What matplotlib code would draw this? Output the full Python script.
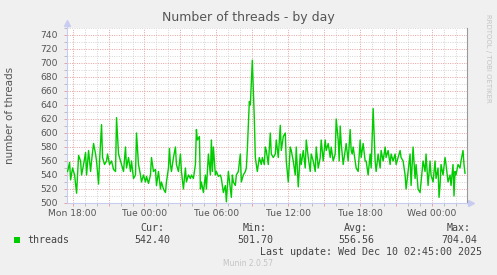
import matplotlib
matplotlib.use("Agg")
import matplotlib.pyplot as plt
from matplotlib.ticker import FixedLocator, NullFormatter, FixedFormatter
from matplotlib.patches import Rectangle

# ---- data (minutes since Mon 18:00, thread count) ----
minutes = [-25, -15, -10, 0, 10, 20, 30, 40, 45, 55, 65, 70, 80, 90, 95, 105, 115, 120,
           130, 135, 145, 150, 160, 170, 175, 185, 195, 205, 215, 220, 230, 240, 245, 255,
           265, 270, 280, 290, 295, 305, 315, 320, 330, 340, 345, 355, 365, 370, 380, 390,
           395, 405, 415, 420, 430, 440, 445, 455, 465, 470, 480, 485, 490, 495, 505, 515,
           520, 530, 540, 545, 555, 565, 570, 580, 590, 595, 605, 615, 620, 625, 635, 640,
           645, 655, 665, 670, 680, 690, 695, 700, 705, 715, 720, 730, 740, 745, 755, 765,
           770, 780, 790, 795, 800, 805, 815, 820, 830, 840, 845, 855, 865, 870, 875, 885,
           890, 900, 910, 915, 925, 935, 945, 950, 960, 965, 970, 980, 990, 995, 1005, 1015,
           1020, 1030, 1040, 1045, 1055, 1065, 1070, 1080, 1090, 1095, 1105, 1115, 1120, 1130,
           1140, 1145, 1155, 1165, 1170, 1180, 1190, 1195, 1205, 1215, 1220, 1230, 1240, 1245,
           1255, 1265, 1270, 1280, 1290, 1295, 1305, 1315, 1320, 1330, 1335, 1340, 1345, 1355,
           1365, 1370, 1380, 1390, 1395, 1400, 1405, 1415, 1420, 1430, 1440, 1445, 1455, 1465,
           1470, 1480, 1490, 1495, 1505, 1515, 1520, 1530, 1540, 1545, 1555, 1565, 1570, 1580,
           1590, 1595, 1605, 1615, 1620, 1630, 1640, 1645, 1655, 1665, 1670, 1680, 1690, 1695,
           1705, 1715, 1720, 1730, 1740, 1745, 1755, 1765, 1770, 1780, 1790, 1795, 1805, 1815,
           1820, 1830, 1835, 1840, 1845, 1855, 1865, 1870, 1880, 1890, 1895, 1905, 1910, 1915,
           1920, 1930, 1940, 1945, 1955, 1960, 1965]
threads = [545, 558, 533, 550, 540, 514, 568, 560, 540, 555, 572, 540, 575, 545, 560, 585, 570, 560,
           527, 560, 612, 565, 555, 560, 570, 555, 560, 548, 545, 622, 570, 560, 555, 545,
           580, 550, 565, 545, 560, 535, 540, 600, 555, 540, 530, 540, 530, 538, 528, 540,
           565, 545, 548, 525, 545, 520, 530, 520, 515, 530, 550, 578, 555, 545, 565, 580,
           555, 545, 570, 545, 520, 550, 530, 540, 535, 540, 535, 555, 605, 590, 595, 520,
           530, 515, 540, 520, 570, 540, 590, 545, 580, 540, 545, 538, 540, 535, 515, 525,
           501.7, 545, 520, 508, 540, 530, 525, 540, 545, 570, 530, 540, 545, 550, 576, 645,
           640, 704.04, 620, 565, 545, 565, 555, 565, 555, 580, 575, 555, 600, 570, 565, 570,
           590, 565, 611, 575, 595, 600, 560, 530, 580, 575, 560, 540, 580, 523,
           570, 555, 575, 550, 590, 565, 545, 570, 560, 545, 580, 550, 565, 590,
           560, 590, 575, 585, 565, 580, 560, 570, 620, 590, 560, 610, 585, 555,
           575, 585, 560, 605, 575, 570, 580, 560, 550, 545, 590, 565, 585, 560,
           560, 540, 570, 550, 635, 560, 545, 570, 550, 575, 560, 580, 565, 575,
           555, 570, 560, 570, 555, 565, 575, 565, 560, 540, 520, 545, 570, 525,
           580, 535, 555, 520, 515, 530, 560, 545, 570, 525, 560, 540, 530, 560,
           535, 550, 508, 525, 555, 540, 565, 555, 530, 540, 525, 555, 510, 545,
           540, 555, 550, 560, 575, 555, 542.40]

x_label_hours = [0, 6, 12, 18, 24, 30]
x_labels = ["Mon 18:00", "Tue 00:00", "Tue 06:00", "Tue 12:00", "Tue 18:00", "Wed 00:00"]
y_ticks = [500, 520, 540, 560, 580, 600, 620, 640, 660, 680, 700, 720, 740]

title = "Number of threads - by day"
ylabel = "number of threads"
series_name = "threads"
stat_names = ["Cur:", "Min:", "Avg:", "Max:"]
stat_values = ["542.40", "501.70", "556.56", "704.04"]
last_update = "Last update: Wed Dec 10 02:45:00 2025"
footer = "Munin 2.0.57"
side_text = "RRDTOOL / TOBI OETIKER"

# ---- figure ----
W, H = 497, 275
fig = plt.figure(figsize=(W / 100, H / 100), dpi=100, facecolor="#F0F0F0")
L, R, T, B = 67, 467, 28, 203
ax = fig.add_axes([L / W, 1 - B / H, (R - L) / W, (B - T) / H])
ax.set_facecolor("white")

hours = [m / 60 for m in minutes]
ax.plot(hours, threads, color="#00CC00", lw=1.0, solid_joinstyle="round", zorder=5)

ax.set_xlim(-28 / 60, 1975 / 60)
ax.set_ylim(500, 750)

major_x = [h for h in range(0, 33, 3)]
minor_x = [h for h in range(0, 33) if h % 3 != 0]
ax.xaxis.set_major_locator(FixedLocator(major_x))
ax.xaxis.set_minor_locator(FixedLocator(minor_x))
ax.xaxis.set_major_formatter(FixedFormatter(
    [x_labels[x_label_hours.index(h)] if h in x_label_hours else "" for h in major_x]))
ax.xaxis.set_minor_formatter(NullFormatter())

ax.yaxis.set_major_locator(FixedLocator(y_ticks))
ax.yaxis.set_minor_locator(FixedLocator([v for v in range(510, 760, 20)]))
ax.yaxis.set_minor_formatter(NullFormatter())

red = "#e8a0a0"
gray = "#d4d4d4"
dot = (0, (1, 1.4))
ax.grid(which="major", color=red, lw=0.7, linestyle=dot, zorder=1)
ax.grid(which="minor", color=gray, lw=0.7, linestyle=dot, zorder=0)

ax.tick_params(axis="both", which="both", direction="out", length=2.5, width=0.7)
ax.tick_params(axis="x", which="major", colors=red, labelcolor="#555555", labelsize=6.6, pad=2)
ax.tick_params(axis="x", which="minor", colors="#bbbbbb")
ax.tick_params(axis="y", which="major", colors=red, labelcolor="#555555", labelsize=6.6, pad=4)
ax.tick_params(axis="y", which="minor", colors="#bbbbbb")

for s in ["top"]:
    ax.spines[s].set_visible(False)
axis_col = "#c8ccf0"
ax.spines["left"].set_color(axis_col)
ax.spines["bottom"].set_color(axis_col)
ax.spines["right"].set_color("#999999")
for s in ["left", "bottom", "right"]:
    ax.spines[s].set_linewidth(0.8)

# axis arrows
ax.plot([0], [1.03], marker="^", ms=4, color=axis_col, transform=ax.transAxes, clip_on=False)
ax.plot([1.01], [0], marker=">", ms=4, color=axis_col, transform=ax.transAxes, clip_on=False)
ax.plot([0, 0], [1.0, 1.03], color=axis_col, lw=0.8, transform=ax.transAxes, clip_on=False)

# texts
fig.text(248 / W, 1 - 18 / H, title, ha="center", va="center", fontsize=9, color="#555555")
fig.text(10 / W, 1 - 115 / H, ylabel, ha="center", va="center", rotation=90,
         fontsize=7.5, color="#555555")
fig.text(488 / W, 1 - 58 / H, side_text, ha="center", va="center", rotation=270,
         fontsize=5, color="#c4c4c4")

mono = dict(family="DejaVu Sans Mono", fontsize=7.2, color="#444444")
fig.patches.append(Rectangle((14 / W, 1 - 243 / H), 6 / W, 6 / H, transform=fig.transFigure,
                             facecolor="#00CC00", edgecolor="none"))
fig.text(27 / W, 1 - 240 / H, series_name, ha="left", va="center", **mono)
stat_x = [152, 255, 356, 459]
for sx, nm, val in zip(stat_x, stat_names, stat_values):
    fig.text(sx / W, 1 - 228 / H, nm, ha="center", va="center", **mono)
    fig.text(sx / W, 1 - 240 / H, val, ha="center", va="center", **mono)
fig.text(482 / W, 1 - 252 / H, last_update, ha="right", va="center", **mono)
fig.text(248 / W, 1 - 264 / H, footer, ha="center", va="center", fontsize=5.5, color="#c4c4c4")

fig.savefig("out.png", dpi=100, facecolor=fig.get_facecolor())
